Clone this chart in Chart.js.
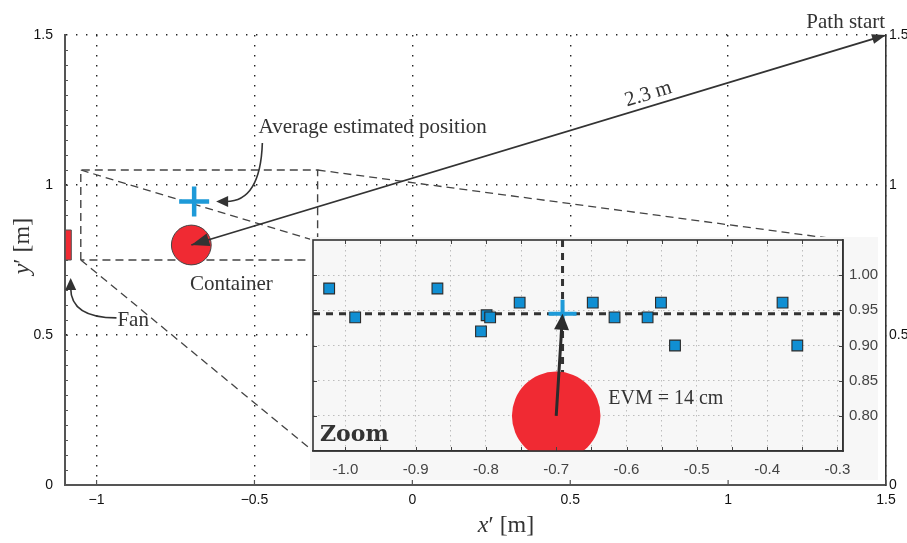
<!DOCTYPE html>
<html><head><meta charset="utf-8">
<script src="https://cdn.jsdelivr.net/npm/chart.js@4/dist/chart.umd.min.js"></script>
<style>
html,body{margin:0;padding:0;background:#fff;}
#wrap{position:relative;width:907px;height:543px;overflow:hidden;}
#main{position:absolute;left:0;top:0;}
#inset{position:absolute;left:310px;top:237px;background:#f7f7f7;}
</style></head><body>
<div id="wrap">
<canvas id="main" width="907" height="543"></canvas>
<canvas id="inset" width="568" height="243"></canvas>
</div>
<script>
// ---------------- data ----------------
const X_RANGE = [-1.1, 1.5];
const Y_RANGE = [0, 1.5];
const X_TICKS = [-1, -0.5, 0, 0.5, 1, 1.5];
const X_TICK_LABELS = ['\u22121', '\u22120.5', '0', '0.5', '1', '1.5'];
const Y_TICKS = [0, 0.5, 1, 1.5];
const Y_TICK_LABELS = ['0', '0.5', '1', '1.5'];

const PATH_START = [1.5, 1.5];
const CONTAINER = [-0.70, 0.80];
const CONTAINER_R = 0.063;
const FAN_X = [-1.1, -1.08];
const FAN_Y = [0.75, 0.85];
const ZOOM_X = [-1.05, -0.3];
const ZOOM_Y = [0.75, 1.05];
const MEAN = [-0.691, 0.945];

const EST_X = [-1.023, -0.986, -0.869, -0.807, -0.799, -0.794, -0.752, -0.648, -0.617, -0.570, -0.551, -0.531, -0.378, -0.357];
const EST_Y = [0.981, 0.940, 0.981, 0.920, 0.943, 0.940, 0.961, 0.961, 0.940, 0.940, 0.961, 0.900, 0.961, 0.900];

const INSET_X_RANGE = [-1.046, -0.292];
const INSET_Y_RANGE = [0.75, 1.05];
const INSET_X_GRID = [-1.0, -0.95, -0.9, -0.85, -0.8, -0.75, -0.7, -0.65, -0.6, -0.55, -0.5, -0.45, -0.4, -0.35, -0.3];
const INSET_X_TICKS = [-1.0, -0.9, -0.8, -0.7, -0.6, -0.5, -0.4, -0.3];
const INSET_X_LABELS = ['-1.0', '-0.9', '-0.8', '-0.7', '-0.6', '-0.5', '-0.4', '-0.3'];
const INSET_Y_TICKS = [0.80, 0.85, 0.90, 0.95, 1.00];
const INSET_Y_LABELS = ['0.80', '0.85', '0.90', '0.95', '1.00'];

// ---------------- helpers ----------------
Chart.defaults.font.family = 'Liberation Sans';
const RED = '#f02a33', BLUE_SQ = '#108fd3', BLUE_CROSS = '#1e9ad8', DARK = '#333';
const SERIF = '"Liberation Serif"';

function labelFor(v, ticks, labels) {
  const i = ticks.findIndex(t => Math.abs(t - v) < 1e-9);
  return i >= 0 ? labels[i] : '';
}
function radiusPx(chart, r) {
  const s = chart.scales.x;
  return Math.abs(s.getPixelForValue(CONTAINER[0] + r) - s.getPixelForValue(CONTAINER[0]));
}
function arrowHead(ctx, fromX, fromY, tipX, tipY, len, half) {
  const a = Math.atan2(tipY - fromY, tipX - fromX);
  const bx = tipX - len * Math.cos(a), by = tipY - len * Math.sin(a);
  ctx.beginPath();
  ctx.moveTo(tipX, tipY);
  ctx.lineTo(bx - half * Math.sin(a), by + half * Math.cos(a));
  ctx.lineTo(bx + half * Math.sin(a), by - half * Math.cos(a));
  ctx.closePath();
  ctx.fill();
}
function drawParts(ctx, parts, cx, cy) {
  let total = 0;
  parts.forEach(p => { ctx.font = p.font; p.w = ctx.measureText(p.t).width; total += p.w; });
  let x = cx - total / 2;
  ctx.textAlign = 'left'; ctx.textBaseline = 'middle';
  parts.forEach(p => { ctx.font = p.font; ctx.fillText(p.t, x, cy); x += p.w; });
}
function noPad(s) { s.paddingLeft = 0; s.paddingRight = 0; s.paddingTop = 0; s.paddingBottom = 0; }
const pts = (xs, ys) => xs.map((x, i) => ({x, y: ys[i]}));

// ---------------- inset (zoom) chart ----------------
const insetCanvas = document.getElementById('inset');
const insetPlugin = {
  id: 'insetDeco',
  afterDatasetsDraw(chart) {
    const {ctx, chartArea: a, scales: {x, y}} = chart;
    const x0 = x.getPixelForValue(CONTAINER[0]), y0 = y.getPixelForValue(CONTAINER[1]);
    const x1 = x.getPixelForValue(MEAN[0]), y1 = y.getPixelForValue(MEAN[1]);
    ctx.save();
    ctx.strokeStyle = '#2b2b2b'; ctx.fillStyle = '#2b2b2b'; ctx.lineWidth = 3;
    const ang = Math.atan2(y1 - y0, x1 - x0);
    ctx.beginPath(); ctx.moveTo(x0, y0); ctx.lineTo(x1 - 12 * Math.cos(ang), y1 - 12 * Math.sin(ang)); ctx.stroke();
    arrowHead(ctx, x0, y0, x1, y1, 16, 7.5);
    ctx.fillStyle = DARK;
    ctx.font = '20px ' + SERIF; ctx.textAlign = 'left'; ctx.textBaseline = 'middle';
    ctx.fillText('EVM = 14 cm', x.getPixelForValue(-0.626), y.getPixelForValue(0.824));
    ctx.font = 'bold 22px "DejaVu Serif"';
    ctx.fillText('Zoom', a.left + 7, a.bottom - 16);
    ctx.restore();
  },
  afterDraw(chart) {
    const {ctx, chartArea: a, scales: {x, y}} = chart;
    ctx.save();
    ctx.strokeStyle = '#444'; ctx.lineWidth = 1;
    ctx.beginPath();
    INSET_X_GRID.forEach(v => {
      const xx = Math.round(x.getPixelForValue(v)) + 0.5;
      ctx.moveTo(xx, a.bottom); ctx.lineTo(xx, a.bottom - 4);
      ctx.moveTo(xx, a.top); ctx.lineTo(xx, a.top + 4);
    });
    INSET_Y_TICKS.forEach(v => {
      const yy = Math.round(y.getPixelForValue(v)) + 0.5;
      ctx.moveTo(a.left, yy); ctx.lineTo(a.left + 4, yy);
      ctx.moveTo(a.right, yy); ctx.lineTo(a.right - 4, yy);
    });
    ctx.stroke();
    ctx.strokeStyle = DARK; ctx.lineWidth = 1.6;
    ctx.strokeRect(a.left, a.top, a.right - a.left, a.bottom - a.top);
    ctx.restore();
  }
};

const insetChart = new Chart(insetCanvas, {
  type: 'scatter',
  data: { datasets: [
    { label: 'Estimated positions', data: pts(EST_X, EST_Y), pointStyle: 'rect', pointRadius: 7.6,
      backgroundColor: BLUE_SQ, borderColor: '#2a2a2a', borderWidth: 1.1 },
    { label: 'Average', data: [{x: MEAN[0], y: MEAN[1]}], pointStyle: 'cross', pointRadius: 14,
      borderColor: BLUE_CROSS, borderWidth: 4 },
    { label: 'Container', data: [{x: CONTAINER[0], y: CONTAINER[1]}], pointRadius: ctx => radiusPx(ctx.chart, CONTAINER_R),
      backgroundColor: RED, borderColor: RED, borderWidth: 0, clip: 0 },
    { type: 'line', label: 'mean y', showLine: true, data: [{x: INSET_X_RANGE[0], y: MEAN[1]}, {x: INSET_X_RANGE[1], y: MEAN[1]}],
      borderColor: DARK, borderWidth: 3, borderDash: [7, 6], pointRadius: 0, fill: false },
    { type: 'line', label: 'mean x', showLine: true, data: [{x: MEAN[0], y: INSET_Y_RANGE[1]}, {x: MEAN[0], y: INSET_Y_RANGE[0]}],
      borderColor: DARK, borderWidth: 3, borderDash: [7, 6], pointRadius: 0, fill: false }
  ]},
  options: {
    responsive: false, animation: false, events: [],
    layout: { autoPadding: false, padding: { left: 3, top: 3, right: 0, bottom: 0 } },
    plugins: { legend: { display: false }, tooltip: { enabled: false } },
    scales: {
      x: { type: 'linear', position: 'bottom', min: INSET_X_RANGE[0], max: INSET_X_RANGE[1],
        afterBuildTicks: s => { s.ticks = INSET_X_GRID.map(v => ({value: v})); },
        afterFit: s => { s.height = 29; noPad(s); },
        grid: { color: '#bdbdbd', lineWidth: 1, drawTicks: false },
        border: { display: true, color: DARK, width: 1.5, dash: [1.5, 3.5] },
        ticks: { autoSkip: false, maxRotation: 0, padding: 10, color: '#444', font: { size: 15 },
          callback: v => labelFor(v, INSET_X_TICKS, INSET_X_LABELS) } },
      y: { type: 'linear', position: 'right', min: INSET_Y_RANGE[0], max: INSET_Y_RANGE[1],
        afterBuildTicks: s => { s.ticks = INSET_Y_TICKS.map(v => ({value: v})); },
        afterFit: s => { s.width = 35; noPad(s); },
        grid: { color: '#bdbdbd', lineWidth: 1, drawTicks: false },
        border: { display: true, color: DARK, width: 1.5, dash: [1.5, 3.5] },
        ticks: { autoSkip: false, padding: 6, color: '#444', font: { size: 15 },
          callback: v => labelFor(v, INSET_Y_TICKS, INSET_Y_LABELS) } }
    }
  },
  plugins: [insetPlugin]
});

// ---------------- main chart ----------------
const mainPlugin = {
  id: 'mainDeco',
  beforeDatasetsDraw(chart) {
    const {ctx, scales: {x, y}, chartArea: a} = chart;
    const ia = insetChart.chartArea;
    const ox = insetCanvas.offsetLeft, oy = insetCanvas.offsetTop;
    const links = [
      [ZOOM_X[0], ZOOM_Y[1], ia.left, ia.top],
      [ZOOM_X[1], ZOOM_Y[1], ia.right, ia.top],
      [ZOOM_X[0], ZOOM_Y[0], ia.left, ia.bottom]
    ];
    ctx.save();
    ctx.setLineDash([8, 5]); ctx.strokeStyle = '#444'; ctx.lineWidth = 1.3;
    ctx.beginPath();
    links.forEach(([dx, dy, ix, iy]) => {
      ctx.moveTo(x.getPixelForValue(dx), y.getPixelForValue(dy));
      ctx.lineTo(ox + ix, oy + iy);
    });
    ctx.stroke();
    ctx.setLineDash([]);
    ctx.strokeStyle = '#555'; ctx.lineWidth = 1.2;
    ctx.beginPath();
    X_TICKS.forEach(v => {
      const xx = x.getPixelForValue(v);
      ctx.moveTo(xx, a.bottom); ctx.lineTo(xx, a.bottom - 5);
    });
    for (let i = 1; i < 30; i++) {
      const yy = Math.round(y.getPixelForValue(i * 0.05)) + 0.5;
      ctx.moveTo(a.left, yy); ctx.lineTo(a.left + 3, yy);
    }
    ctx.stroke();
    ctx.restore();
  },
  afterDatasetsDraw(chart) {
    const {ctx, scales: {x, y}} = chart;
    const P = (vx, vy) => ({x: x.getPixelForValue(vx), y: y.getPixelForValue(vy)});
    ctx.save();
    ctx.fillStyle = DARK; ctx.strokeStyle = DARK;
    const p0 = P(PATH_START[0], PATH_START[1]);
    const p1 = P(CONTAINER[0], CONTAINER[1]);
    arrowHead(ctx, p1.x, p1.y, p0.x, p0.y, 14, 5);
    arrowHead(ctx, p0.x, p0.y, p1.x, p1.y, 18, 6.5);
    const ang = Math.atan2(p0.y - p1.y, p0.x - p1.x);
    const t = 0.337;
    ctx.save();
    ctx.translate(p0.x + (p1.x - p0.x) * t, p0.y + (p1.y - p0.y) * t);
    ctx.rotate(ang);
    ctx.font = '21px ' + SERIF; ctx.textAlign = 'center'; ctx.textBaseline = 'middle';
    ctx.fillText('2.3 m', 0, -12);
    ctx.restore();
    ctx.font = '21px ' + SERIF; ctx.textBaseline = 'middle';
    ctx.textAlign = 'right';
    const ps = P(1.497, 1.543); ctx.fillText('Path start', ps.x, ps.y);
    ctx.textAlign = 'left';
    const av = P(-0.487, 1.193); ctx.fillText('Average estimated position', av.x, av.y);
    ctx.textAlign = 'center';
    const ct = P(-0.573, 0.67); ctx.fillText('Container', ct.x, ct.y);
    ctx.textAlign = 'left';
    const fn = P(-0.934, 0.55); ctx.fillText('Fan', fn.x, fn.y);
    ctx.lineWidth = 1.6;
    const S = P(-0.475, 1.14);
    const m = P(MEAN[0], MEAN[1]);
    const T = {x: m.x + 22, y: m.y};
    ctx.beginPath(); ctx.moveTo(S.x, S.y); ctx.quadraticCurveTo(S.x - 2, T.y, T.x + 10, T.y); ctx.stroke();
    arrowHead(ctx, T.x + 20, T.y, T.x, T.y, 12, 5.5);
    const S2 = P(-0.937, 0.557);
    const T2 = P(-1.082, 0.69);
    ctx.beginPath(); ctx.moveTo(S2.x, S2.y); ctx.quadraticCurveTo(T2.x, S2.y, T2.x, T2.y + 10); ctx.stroke();
    arrowHead(ctx, T2.x, T2.y + 20, T2.x, T2.y, 12, 5.5);
    ctx.restore();
  },
  afterDraw(chart) {
    const {ctx, chartArea: a} = chart;
    ctx.save();
    ctx.fillStyle = DARK;
    drawParts(ctx, [
      {t: 'x', font: 'italic 24px ' + SERIF},
      {t: '\u2032 [m]', font: '24px ' + SERIF}
    ], a.left + 441, 526);
    ctx.translate(23, 246);
    ctx.rotate(-Math.PI / 2);
    drawParts(ctx, [
      {t: 'y', font: 'italic 24px ' + SERIF},
      {t: '\u2032 [m]', font: '24px ' + SERIF}
    ], 0, 0);
    ctx.restore();
  }
};

const gridCommon = { color: '#222', lineWidth: 1.4, drawTicks: false };
const borderCommon = { display: true, color: '#555', width: 2, dash: [1.4, 8.6] };
const tickFont = { size: 14 };

new Chart(document.getElementById('main'), {
  type: 'scatter',
  data: { datasets: [
    { type: 'line', label: 'Path', showLine: true, data: [{x: PATH_START[0], y: PATH_START[1]}, {x: CONTAINER[0], y: CONTAINER[1]}],
      borderColor: DARK, borderWidth: 1.8, pointRadius: 0, fill: false },
    { label: 'Average estimated position', data: [{x: MEAN[0], y: MEAN[1]}], pointStyle: 'cross', pointRadius: 15,
      borderColor: BLUE_CROSS, borderWidth: 4.5 },
    { label: 'Container', data: [{x: CONTAINER[0], y: CONTAINER[1]}], pointRadius: ctx => radiusPx(ctx.chart, CONTAINER_R),
      backgroundColor: RED, borderColor: '#444', borderWidth: 1 },
    { type: 'line', label: 'Fan', showLine: true,
      data: [{x: FAN_X[0], y: FAN_Y[0]}, {x: FAN_X[1], y: FAN_Y[0]}, {x: FAN_X[1], y: FAN_Y[1]}, {x: FAN_X[0], y: FAN_Y[1]}, {x: FAN_X[0], y: FAN_Y[0]}],
      fill: 'shape', backgroundColor: RED, borderColor: '#555', borderWidth: 1, pointRadius: 0 },
    { type: 'line', label: 'Zoom area', showLine: true,
      data: [{x: ZOOM_X[0], y: ZOOM_Y[0]}, {x: ZOOM_X[0], y: ZOOM_Y[1]}, {x: ZOOM_X[1], y: ZOOM_Y[1]}, {x: ZOOM_X[1], y: ZOOM_Y[0]}, {x: ZOOM_X[0], y: ZOOM_Y[0]}],
      borderColor: '#444', borderWidth: 1.4, borderDash: [8, 5], pointRadius: 0, fill: false }
  ]},
  options: {
    responsive: false, animation: false, events: [],
    layout: { autoPadding: false, padding: { left: 0, top: 35, right: 0, bottom: 0 } },
    plugins: { legend: { display: false }, tooltip: { enabled: false } },
    scales: {
      x: { type: 'linear', position: 'bottom', min: X_RANGE[0], max: X_RANGE[1],
        afterBuildTicks: s => { s.ticks = X_TICKS.map(v => ({value: v})); },
        afterFit: s => { s.height = 58; },
        grid: gridCommon, border: borderCommon,
        ticks: { autoSkip: false, maxRotation: 0, padding: 7, color: '#111', font: tickFont,
          callback: v => labelFor(v, X_TICKS, X_TICK_LABELS) } },
      y: { type: 'linear', position: 'left', min: Y_RANGE[0], max: Y_RANGE[1],
        afterBuildTicks: s => { s.ticks = Y_TICKS.map(v => ({value: v})); },
        afterFit: s => { s.width = 65; },
        grid: gridCommon, border: borderCommon,
        ticks: { autoSkip: false, padding: 12, color: '#111', font: tickFont,
          callback: v => labelFor(v, Y_TICKS, Y_TICK_LABELS) } },
      y2: { type: 'linear', position: 'right', min: Y_RANGE[0], max: Y_RANGE[1],
        afterBuildTicks: s => { s.ticks = Y_TICKS.map(v => ({value: v})); },
        afterFit: s => { s.width = 21; },
        grid: { drawOnChartArea: false, drawTicks: false },
        border: { display: true, color: '#333', width: 1.6 },
        ticks: { autoSkip: false, padding: 3, color: '#111', font: tickFont,
          callback: v => labelFor(v, Y_TICKS, Y_TICK_LABELS) } }
    }
  },
  plugins: [mainPlugin]
});
</script>
</body></html>
